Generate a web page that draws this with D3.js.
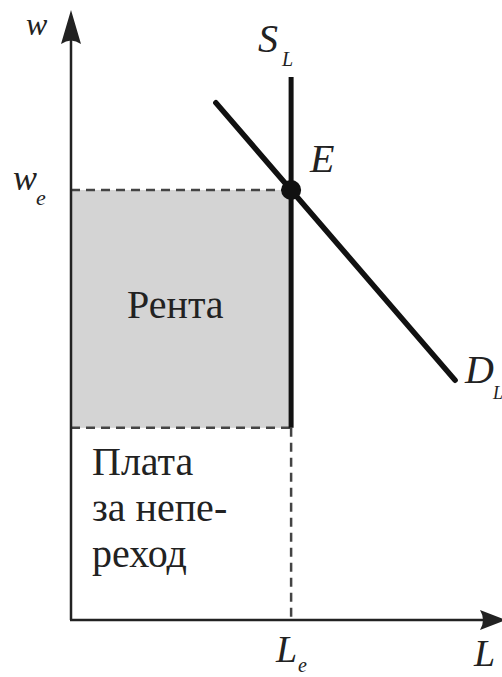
<!DOCTYPE html>
<html>
<head>
<meta charset="UTF-8">
<script src="https://cdn.jsdelivr.net/npm/d3@7"></script>
<title>Rent</title>
</head>
<body style="margin:0">
<svg id="chart" width="502" height="677"></svg>
<script>
// values on an abstract 0..100 scale
var Le = 50.6;            // equilibrium employment
var we = 70.5;            // equilibrium wage
var wReserve = 31.5;      // transfer earnings level
var supplyTop = 89;       // top of vertical S_L
var demandPts = [[33.3, 84.8], [88.3, 39.3]];
var rentLabel = "Рента";
var transferLines = ["Плата", "за непе-", "реход"];

var svg = d3.select("#chart");
var x = d3.scaleLinear().domain([0, 100]).range([71, 506]);
var y = d3.scaleLinear().domain([0, 100]).range([620, 10]);

// rent area
svg.append("rect")
    .attr("x", x(0)).attr("y", y(we))
    .attr("width", x(Le) - x(0)).attr("height", y(wReserve) - y(we))
    .attr("fill", "#d4d4d4");

// dashed guides
var dash = function(s) {
    s.attr("stroke", "#444").attr("stroke-width", 2.5).attr("stroke-dasharray", "9,6").attr("fill", "none");
};
svg.append("line").attr("x1", x(0)).attr("x2", x(Le)).attr("y1", y(we)).attr("y2", y(we)).call(dash);
svg.append("line").attr("x1", x(0)).attr("x2", x(Le)).attr("y1", y(wReserve)).attr("y2", y(wReserve)).call(dash);
svg.append("line").attr("x1", x(Le)).attr("x2", x(Le)).attr("y1", y(wReserve)).attr("y2", y(0)).call(dash);

// axes
svg.append("line").attr("x1", x(0)).attr("x2", x(0)).attr("y1", y(0)).attr("y2", y(100) + 20)
    .attr("stroke", "#222").attr("stroke-width", 2.5);
svg.append("line").attr("x1", x(0) - 1).attr("x2", x(100) - 15).attr("y1", y(0)).attr("y2", y(0))
    .attr("stroke", "#222").attr("stroke-width", 2.5);
// arrow heads
var tx = x(0), ty = y(100);
svg.append("path")
    .attr("d", "M" + tx + "," + ty + " L" + (tx + 10) + "," + (ty + 34) + " Q" + tx + "," + (ty + 27) + " " + (tx - 10) + "," + (ty + 34) + " Z")
    .attr("fill", "#222");
var ax = x(100), ay = y(0);
svg.append("path")
    .attr("d", "M" + ax + "," + ay + " L" + (ax - 26) + "," + (ay - 10) + " Q" + (ax - 20) + "," + ay + " " + (ax - 26) + "," + (ay + 10) + " Z")
    .attr("fill", "#222");

// supply (vertical) and demand
svg.append("line").attr("x1", x(Le)).attr("x2", x(Le)).attr("y1", y(supplyTop)).attr("y2", y(wReserve))
    .attr("stroke", "#111").attr("stroke-width", 5);
var line = d3.line().x(function(d) { return x(d[0]); }).y(function(d) { return y(d[1]); });
svg.append("path").attr("d", line(demandPts))
    .attr("stroke", "#111").attr("stroke-width", 5.5).attr("fill", "none").attr("stroke-linecap", "round");

// equilibrium point
svg.append("circle").attr("cx", x(Le)).attr("cy", y(we)).attr("r", 10).attr("fill", "#111");

function label(px, py, str, size, italic) {
    var t = svg.append("text")
        .attr("x", px).attr("y", py)
        .attr("font-family", "serif")
        .attr("font-size", size)
        .attr("fill", "#222")
        .text(str);
    if (italic) t.attr("font-style", "italic");
    return t;
}

label(x(0) - 45, y(100) + 25, "w", 32, true);
label(x(0) - 58, y(we), "w", 36, true);
label(x(0) - 35, y(we) + 15, "e", 22, true);
label(x(Le) - 33, 52, "S", 40, true);
label(x(Le) - 9, 66, "L", 20, true);
label(x(Le) + 19, y(we) - 18, "E", 40, true);
label(x(demandPts[1][0]) + 10, y(demandPts[1][1]) + 3, "D", 40, true);
label(x(demandPts[1][0]) + 38, y(demandPts[1][1]) + 19, "L", 18, true);
label(x(Le) - 15, 662, "L", 38, true);
label(x(Le) + 7, 672, "e", 20, true);
label(474, 666, "L", 38, true);

// area labels
var rentY = (y(we) + y(wReserve)) / 2;
label(127, rentY + 9, rentLabel, 40, false);
transferLines.forEach(function(t, i) {
    label(92, 475 + i * 46, t, 40, false);
});
</script>
</body>
</html>
